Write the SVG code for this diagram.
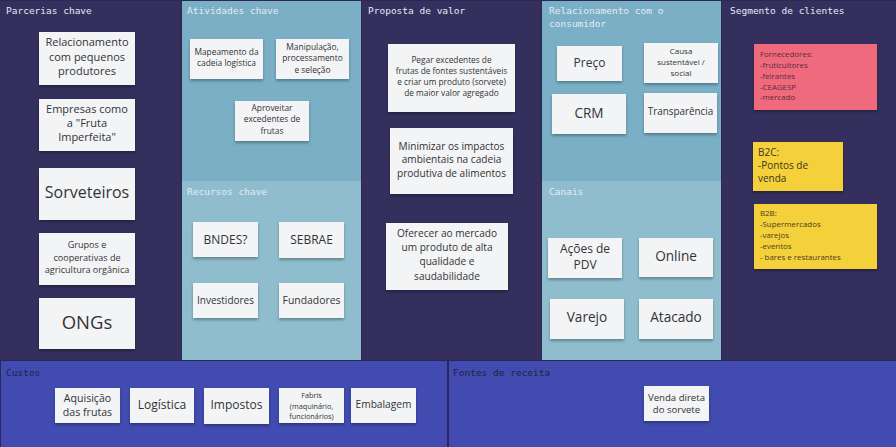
<svg xmlns="http://www.w3.org/2000/svg" width="896" height="447" viewBox="0 0 896 447">
<defs>
<filter id="sh" x="-10%" y="-10%" width="120%" height="140%">
<feDropShadow dx="0" dy="2" stdDeviation="1.5" flood-color="#000" flood-opacity="0.3"/>
</filter>
<style>
.dark{fill:#352f5e}
.lt1{fill:#7aafc6}
.lt2{fill:#8fbdce}
.blu{fill:#414bb0}
.h{font-family:"DejaVu Sans Mono","Liberation Mono",monospace;font-size:9.5px;fill:#e4ecf3}
.hd{font-family:"DejaVu Sans Mono","Liberation Mono",monospace;font-size:9.5px;fill:#22223e}
.n{fill:#f3f4f6;filter:url(#sh)}
.t{font-family:"Open Sans","Noto Sans",sans-serif;fill:#333333;text-anchor:middle}
.s{font-family:"Open Sans","Noto Sans",sans-serif}
</style>
</defs>
<rect width="896" height="447" fill="#2c2853"/>
<g id="sections">
<rect class="dark" x="0" y="1" width="181" height="359"/>
<rect class="lt1" x="182" y="1" width="179" height="180"/>
<rect class="lt2" x="182" y="181" width="179" height="179"/>
<rect class="dark" x="362" y="1" width="179" height="359"/>
<rect class="lt1" x="542" y="1" width="179" height="180"/>
<rect class="lt2" x="542" y="181" width="179" height="179"/>
<rect class="dark" x="722" y="1" width="174" height="359"/>
<rect class="blu" x="1" y="361" width="446" height="86"/>
<rect class="blu" x="449" y="361" width="447" height="86"/>
<text class="h" x="6" y="13.5">Parcerias chave</text>
<text class="h" x="187" y="13.5">Atividades chave</text>
<text class="h" x="187" y="194.5">Recursos chave</text>
<text class="h" x="368" y="13.5">Proposta de valor</text>
<text class="h" x="549" y="13.5">Relacionamento com o</text>
<text class="h" x="549" y="26.5">consumidor</text>
<text class="h" x="549" y="194.5">Canais</text>
<text class="h" x="730" y="13.5">Segmento de clientes</text>
<text class="hd" x="6" y="375.5">Custos</text>
<text class="hd" x="453" y="375.5">Fontes de receita</text>
</g>
<g id="connectors"></g>
<g id="parcerias">
<g id="p1"><rect class="n" x="39" y="32" width="96" height="53"/><text class="t" font-size="11"><tspan x="87" y="46">Relacionamento</tspan><tspan x="87" y="60.5">com pequenos</tspan><tspan x="87" y="75">produtores</tspan></text></g>
<g id="p2"><rect class="n" x="39" y="99" width="96" height="52"/><text class="t" font-size="11"><tspan x="87" y="113">Empresas como</tspan><tspan x="87" y="127">a "Fruta</tspan><tspan x="87" y="141">Imperfeita"</tspan></text></g>
<g id="p3"><rect class="n" x="39" y="168" width="96" height="52"/><text class="t" font-size="16" x="87" y="197.5">Sorveteiros</text></g>
<g id="p4"><rect class="n" x="39" y="233" width="96" height="52"/><text class="t" font-size="9.1"><tspan x="87" y="248">Grupos e</tspan><tspan x="87" y="261">cooperativas de</tspan><tspan x="87" y="273">agricultura orgânica</tspan></text></g>
<g id="p5"><rect class="n" x="39" y="298" width="96" height="51"/><text class="t" font-size="18.5" x="87" y="328.5">ONGs</text></g>
</g>
<g id="atividades">
<g id="a1"><rect class="n" x="190" y="39" width="73" height="40"/><text class="t" font-size="8.4"><tspan x="226.5" y="55">Mapeamento da</tspan><tspan x="226.5" y="66">cadeia logística</tspan></text></g>
<g id="a2"><rect class="n" x="276" y="39" width="73" height="40"/><text class="t" font-size="8.4"><tspan x="312.5" y="50">Manipulação,</tspan><tspan x="312.5" y="61">processamento</tspan><tspan x="312.5" y="73">e seleção</tspan></text></g>
<g id="a3"><rect class="n" x="235" y="101" width="74" height="40"/><text class="t" font-size="8.4"><tspan x="272" y="111">Aproveitar</tspan><tspan x="272" y="122">excedentes de</tspan><tspan x="272" y="134">frutas</tspan></text></g>
</g>
<g id="recursos">
<g id="r1"><rect class="n" x="193" y="222" width="65" height="35"/><text class="t" font-size="12" x="225.5" y="243.5">BNDES?</text></g>
<g id="r2"><rect class="n" x="279" y="222" width="65" height="36"/><text class="t" font-size="12" x="311.5" y="243.5">SEBRAE</text></g>
<g id="r3"><rect class="n" x="193" y="283" width="65" height="35"/><text class="t" font-size="10" x="225.5" y="303.5">Investidores</text></g>
<g id="r4"><rect class="n" x="279" y="283" width="65" height="35"/><text class="t" font-size="10.4" x="311.5" y="303.5">Fundadores</text></g>
</g>
<g id="proposta">
<g id="v1"><rect class="n" x="388" y="44" width="127" height="68"/><text class="t" font-size="8.3"><tspan x="451.5" y="63">Pegar excedentes de</tspan><tspan x="451.5" y="74">frutas de fontes sustentáveis</tspan><tspan x="451.5" y="85">e criar um produto (sorvete)</tspan><tspan x="451.5" y="96">de maior valor agregado</tspan></text></g>
<g id="v2"><rect class="n" x="390" y="128" width="123" height="66"/><text class="t" font-size="10.1"><tspan x="451.5" y="149.5">Minimizar os impactos</tspan><tspan x="451.5" y="163">ambientais na cadeia</tspan><tspan x="451.5" y="176.5">produtiva de alimentos</tspan></text></g>
<g id="v3"><rect class="n" x="386" y="223" width="122" height="67"/><text class="t" font-size="10.1"><tspan x="447" y="236.5">Oferecer ao mercado</tspan><tspan x="447" y="251">um produto de alta</tspan><tspan x="447" y="265">qualidade e</tspan><tspan x="447" y="279.5">saudabilidade</tspan></text></g>
</g>
<g id="relacionamento">
<g id="c1"><rect class="n" x="557" y="46" width="65" height="35"/><text class="t" font-size="12" x="589.5" y="66.5">Preço</text></g>
<g id="c2"><rect class="n" x="644" y="43" width="74" height="40"/><text class="t" font-size="8"><tspan x="681" y="54">Causa</tspan><tspan x="681" y="65">sustentável /</tspan><tspan x="681" y="76">social</tspan></text></g>
<g id="c3"><rect class="n" x="552" y="94" width="74" height="40"/><text class="t" font-size="13.6" x="589" y="118">CRM</text></g>
<g id="c4"><rect class="n" x="644" y="93" width="73" height="40"/><text class="t" font-size="9.9" x="680.5" y="114.5">Transparência</text></g>
</g>
<g id="canais">
<g id="k1"><rect class="n" x="548" y="238" width="74" height="40"/><text class="t" font-size="12"><tspan x="585" y="253">Ações de</tspan><tspan x="585" y="269">PDV</tspan></text></g>
<g id="k2"><rect class="n" x="639" y="238" width="74" height="39"/><text class="t" font-size="13.6" x="676" y="261">Online</text></g>
<g id="k3"><rect class="n" x="550" y="299" width="74" height="40"/><text class="t" font-size="13.6" x="587" y="322">Varejo</text></g>
<g id="k4"><rect class="n" x="639" y="299" width="74" height="40"/><text class="t" font-size="13.6" x="676" y="322">Atacado</text></g>
</g>
<g id="segmento">
<g id="g1"><rect x="754" y="44" width="123" height="66" fill="#f06b7e" filter="url(#sh)"/><text class="s" font-size="7.9" fill="#5b2a3a"><tspan x="760" y="57">Fornecedores:</tspan><tspan x="760" y="68">-fruticultores</tspan><tspan x="760" y="79">-feirantes</tspan><tspan x="760" y="89.5">-CEAGESP</tspan><tspan x="760" y="100">-mercado</tspan></text></g>
<g id="g2"><rect x="753" y="142" width="90" height="49" fill="#f4d03a" filter="url(#sh)"/><text class="s" font-size="10" fill="#3c3520"><tspan x="758" y="155.5">B2C:</tspan><tspan x="758" y="168.5">-Pontos de</tspan><tspan x="758" y="182">venda</tspan></text></g>
<g id="g3"><rect x="754" y="204" width="123" height="65" fill="#f4d03a" filter="url(#sh)"/><text class="s" font-size="7.9" fill="#4a4020"><tspan x="760" y="216">B2B:</tspan><tspan x="760" y="227">-Supermercados</tspan><tspan x="760" y="238">-varejos</tspan><tspan x="760" y="249">-eventos</tspan><tspan x="760" y="260">- bares e restaurantes</tspan></text></g>
</g>
<g id="custos">
<g id="u1"><rect class="n" x="55" y="388" width="65" height="35"/><text class="t" font-size="10.6"><tspan x="87.5" y="401.5">Aquisição</tspan><tspan x="87.5" y="415.5">das frutas</tspan></text></g>
<g id="u2"><rect class="n" x="130" y="388" width="64" height="35"/><text class="t" font-size="12" x="162" y="409">Logística</text></g>
<g id="u3"><rect class="n" x="204" y="388" width="65" height="36"/><text class="t" font-size="12" x="236.5" y="409">Impostos</text></g>
<g id="u4"><rect class="n" x="279" y="388" width="65" height="35"/><text class="t" font-size="7.3"><tspan x="311.5" y="397.5">Fabris</tspan><tspan x="311.5" y="408.5">(maquinário,</tspan><tspan x="311.5" y="418.5">funcionários)</tspan></text></g>
<g id="u5"><rect class="n" x="351" y="388" width="65" height="35"/><text class="t" font-size="10.2" x="383.5" y="407.5">Embalagem</text></g>
</g>
<g id="fontes">
<g id="f1"><rect class="n" x="644" y="386" width="65" height="35"/><text class="t" font-size="9.6"><tspan x="676.5" y="400.5">Venda direta</tspan><tspan x="676.5" y="412.5">do sorvete</tspan></text></g>
</g>
</svg>
